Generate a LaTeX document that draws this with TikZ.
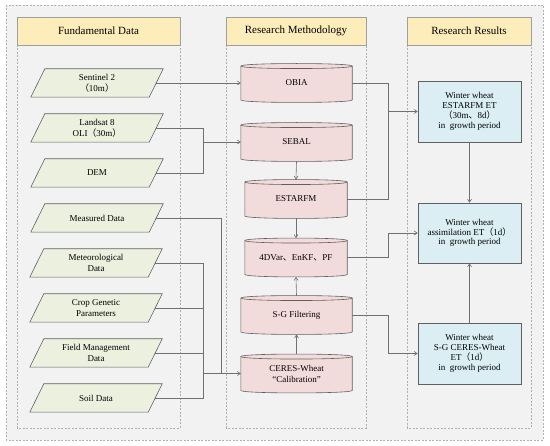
\documentclass[tikz,border=0pt]{standalone}
\usepackage{fontspec}
\setmainfont{Liberation Serif}
\newfontfamily\cjk{Noto Sans CJK SC}
\usetikzlibrary{arrows.meta}
\pgfdeclarelayer{back}
\pgfdeclarelayer{bg}
\pgfsetlayers{back,bg,main}
\definecolor{pagebg}{HTML}{F2F2F2}
\definecolor{hdrfill}{HTML}{FDEDBA}
\definecolor{parafill}{HTML}{EBF1DE}
\definecolor{cylfill}{HTML}{F2DCDB}
\definecolor{boxfill}{HTML}{DBEEF4}
\definecolor{edge}{HTML}{606060}
\definecolor{dashc}{HTML}{B0B0B0}
\newcommand\zlp{{\cjk （}}
\newcommand\zrp{{\cjk ）}}
\newcommand\zdun{{\cjk 、}}
\newcommand\drawpara[1]{%
  \begin{pgfonlayer}{bg}
  \draw[parashape] ([xshift=7pt]#1.north west) -- ([xshift=7pt]#1.north east) -- ([xshift=-7pt]#1.south east) -- ([xshift=-7pt]#1.south west) -- cycle;
  \end{pgfonlayer}}
\newcommand\drawcyl[1]{%
  \begin{pgfonlayer}{bg}
  \draw[cylshape] ([yshift=-2.5pt]#1.north west) -- ([yshift=2.5pt]#1.south west) .. controls +(0,3.33) and +(0,3.33) .. ([yshift=2.5pt]#1.south east) -- ([yshift=-2.5pt]#1.north east) .. controls +(0,-3.33) and +(0,-3.33) .. ([yshift=-2.5pt]#1.north west) -- cycle;
  \draw[cylline] ([yshift=-2.5pt]#1.north west) .. controls +(0,3.33) and +(0,3.33) .. ([yshift=-2.5pt]#1.north east);
  \end{pgfonlayer}}
\tikzset{
  panel/.style={draw=dashc, dash pattern=on 2pt off 1.5pt, line width=0.5pt},
  hdr/.style={draw=gray!75, line width=0.7pt, fill=hdrfill, minimum height=28pt, inner sep=0pt, font=\fontsize{11}{13}\selectfont},
  para/.style={minimum width=118pt, minimum height=28pt, inner sep=0pt, align=center, font=\fontsize{9}{11}\selectfont},
  parashape/.style={draw=edge, line width=0.6pt, fill=parafill},
  cyl/.style={minimum height=38.5pt, inner sep=0pt, align=center, font=\fontsize{9}{11}\selectfont},
  cylshape/.style={draw=edge, line width=0.6pt, fill=cylfill},
  cylline/.style={draw=edge, line width=0.6pt},
  resbox/.style={draw=edge, line width=0.6pt, fill=boxfill, minimum width=103pt, inner sep=0pt, align=center, font=\fontsize{9}{9.8}\selectfont},
  conn/.style={draw=edge!90, line width=0.6pt},
  arr/.style={conn, -{Straight Barb[length=3pt,width=4pt]}}
}
\begin{document}
\begin{tikzpicture}[x=1pt,y=-1pt]
\useasboundingbox (0,0) rectangle (550,446);
\begin{pgfonlayer}{back}
\fill[white] (0,0) rectangle (550,446);
\draw[panel, fill=pagebg] (6,5) rectangle (543,440);
\draw[panel] (17,17) rectangle (180,428);
\draw[panel] (226,17) rectangle (366,428);
\draw[panel] (407,17) rectangle (531,428);
\end{pgfonlayer}
% headers
\node[hdr, minimum width=163pt] (h1) at (98.5,31) {Fundamental Data};
\node[hdr, minimum width=140pt] (h2) at (296,31) {Research Methodology};
\node[hdr, minimum width=124pt] (h3) at (469,31) {Research Results};
% fundamental data
\node[para] (s2) at (97,83) {Sentinel 2\\\zlp 10m\zrp};
\node[para] (ls) at (97,128) {Landsat 8\\OLI\zlp 30m\zrp};
\node[para] (dem) at (97,173) {DEM};
\node[para] (md) at (97,218) {Measured Data};
\node[para] (met) at (96,263) {Meteorological\\Data};
\node[para] (crop) at (96,308) {Crop Genetic\\Parameters};
\node[para] (field) at (96,353) {Field Management\\Data};
\node[para] (soil) at (96,398) {Soil Data};
\drawpara{s2}\drawpara{ls}\drawpara{dem}\drawpara{md}
\drawpara{met}\drawpara{crop}\drawpara{field}\drawpara{soil}
% methodology
\node[cyl, minimum width=111pt] (obia) at (296.5,83) {OBIA};
\node[cyl, minimum width=111pt] (sebal) at (296.5,142) {SEBAL};
\node[cyl, minimum width=102pt] (estarfm) at (296,199) {ESTARFM};
\node[cyl, minimum width=102pt] (dvar) at (296,257.5) {4DVar\zdun EnKF\zdun PF};
\node[cyl, minimum width=111pt] (sg) at (296.5,315) {S-G Filtering};
\node[cyl, minimum width=111pt] (ceres) at (296.5,373.5) {CERES-Wheat\\“Calibration”};
\drawcyl{obia}\drawcyl{sebal}\drawcyl{estarfm}\drawcyl{dvar}\drawcyl{sg}\drawcyl{ceres}
% results
\node[resbox, minimum height=61pt] (r1) at (469.5,111.5) {Winter wheat\\ESTARFM ET\\\zlp 30m\zdun 8d\zrp\\in\ \ growth period};
\node[resbox, minimum height=60pt] (r2) at (469.5,233) {Winter wheat\\assimilation ET\zlp 1d\zrp\\in\ \ growth period};
\node[resbox, minimum height=61pt] (r3) at (469.5,353.5) {Winter wheat\\S-G CERES-Wheat\\ET\zlp 1d\zrp\\in\ \ growth period};
% junctions
\coordinate (jA) at (203,142);
\coordinate (jB) at (221,373.5);
\coordinate (jC) at (203,373.5);
\coordinate (jD) at (388,111.5);
\coordinate (jE) at (388,233);
\coordinate (jF) at (388,353.5);
% connectors left
\draw[arr] (s2.east) -- (obia.west);
\draw[conn] (ls.east) -| (jA);
\draw[conn] (dem.east) -| (jA);
\draw[arr] (jA) -- (sebal.west);
\draw[conn] (md.east) -| (jB);
\draw[conn] (met.east) -| (jC);
\draw[conn] (crop.east) -| (jC);
\draw[conn] (field.east) -| (jC);
\draw[conn] (soil.east) -| (jC);
\draw[arr] (jC) -- (ceres.west);
% connectors middle
\draw[arr] (sebal.south) -- (estarfm.north);
\draw[arr] (estarfm.south) -- (dvar.north);
\draw[arr] (sg.north) -- (dvar.south);
\draw[arr] (ceres.north) -- (sg.south);
% connectors right
\draw[conn] (obia.east) -| (jD);
\draw[conn] (estarfm.east) -| (jD);
\draw[arr] (jD) -- (r1.west);
\draw[arr] (dvar.east) -| (jE) -- (r2.west);
\draw[arr] (sg.east) -| (jF) -- (r3.west);
\draw[arr] (r1.south) -- (r2.north);
\draw[arr] (r3.north) -- (r2.south);
\end{tikzpicture}
\end{document}
